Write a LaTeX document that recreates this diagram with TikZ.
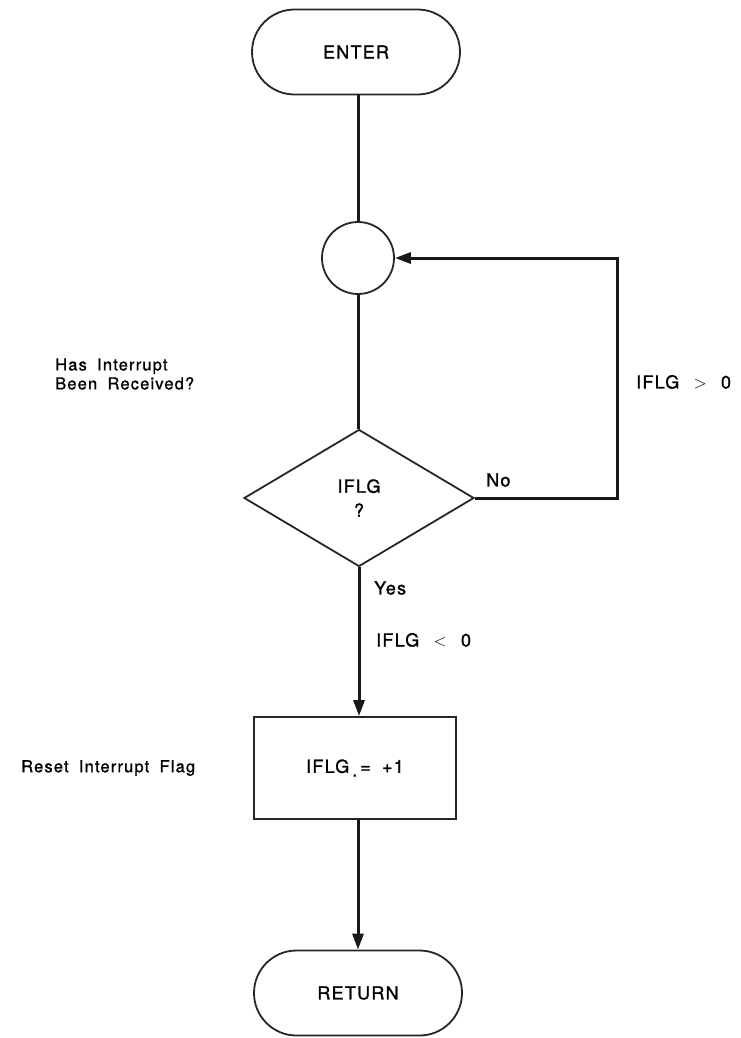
\documentclass[tikz,border=0pt]{standalone}
\usepackage{fontspec}
\setmainfont{TeX Gyre Heros}
\newfontfamily\lblfont[LetterSpace=7,WordSpace=1.8,FakeBold=1.2]{TeX Gyre Heros}
\usetikzlibrary{shapes.geometric,shapes.misc,arrows.meta}
\begin{document}
\begin{tikzpicture}[x=1pt,y=-1pt,
  shapeline/.style={draw=black!85, line width=1.8pt},
  bigtext/.style={font=\lblfont\fontsize{18}{24}\selectfont},
  term/.style={shapeline, rounded rectangle, minimum width=208pt, minimum height=85pt, inner sep=0pt, bigtext},
  joint/.style={shapeline, circle, minimum size=72pt, inner sep=0pt},
  decide/.style={shapeline, diamond, aspect=1.68, minimum width=230pt, minimum height=137pt, inner sep=0pt, align=center, bigtext},
  proc/.style={shapeline, rectangle, minimum width=202pt, minimum height=102pt, inner sep=0pt, bigtext},
  flow/.style={draw=black!90, line width=3pt},
  flowarrow/.style={flow, -{Triangle[length=16pt,width=11pt]}},
  lbl/.style={font=\lblfont\fontsize{16.5}{19}\selectfont, align=left, inner sep=0pt},
  blbl/.style={bigtext, inner sep=0pt}
]
\useasboundingbox (0,0) rectangle (741,1038);
\node[term] (enter) at (356,52) {ENTER};
\node[joint] (circ) at (358,258) {};
\node[decide] (dia) at (359,498) {IFLG\\?};
\node[proc] (box) at (355,768) {IFLG\,\raisebox{-0.4ex}{.}\,= +1};
\node[term] (ret) at (358,993) {RETURN};

\node[lbl, anchor=west] (q) at (55,374) {Has Interrupt\\Been Received?};
\node[lbl, anchor=west] (reset) at (21,768) {Reset Interrupt Flag};
\node[blbl, anchor=west] (no) at (486,480) {No};
\node[blbl, anchor=west] (gt) at (636,382) {IFLG \,$>$\, 0};
\node[blbl, anchor=west] (yes) at (374,588) {Yes};
\node[blbl, anchor=west] (lt) at (376,640) {IFLG \,$<$\, 0};

\coordinate (corner) at (617,498);
\draw[flow] (enter.south -| circ.north) -- (circ.north);
\draw[flow] (circ.south) -- (circ.south |- dia.north);
\draw[flowarrow] (dia.east) -- (corner) |- (circ.east);
\draw[flowarrow] (dia.south) -- (dia.south |- box.north);
\draw[flowarrow] (box.south -| ret.north) -- (ret.north);
\end{tikzpicture}
\end{document}
